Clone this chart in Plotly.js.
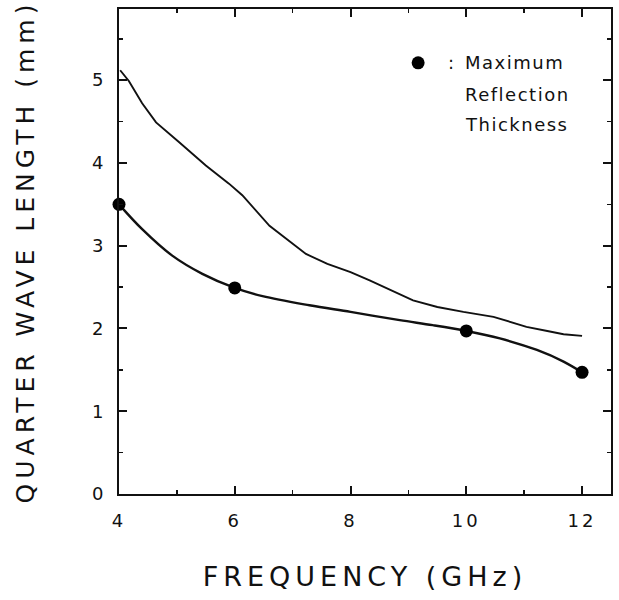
<!DOCTYPE html>
<html><head><meta charset="utf-8">
<script src="https://cdn.plot.ly/plotly-3.0.1.min.js"></script>
<style>
body{margin:0;background:#fff}
.xtitle,.ytitle{letter-spacing:5px}
.xtick text,.ytick text{letter-spacing:3px}
.annotation-text{letter-spacing:1.5px}
</style></head><body><div id="chart" style="width:619px;height:600px"></div>
<script>
// Upper (thin) curve: quarter wave length vs frequency
const upperFreq = [4.02, 4.17, 4.40, 4.64, 5.04, 5.50, 5.90, 6.13, 6.60, 6.94, 7.23, 7.60, 8.00, 8.33, 8.70, 9.08, 9.50, 9.95, 10.47, 11.04, 11.40, 11.68, 12.00];
const upperQWL  = [5.12, 4.99, 4.72, 4.49, 4.25, 3.97, 3.75, 3.61, 3.24, 3.06, 2.90, 2.78, 2.68, 2.58, 2.46, 2.34, 2.26, 2.20, 2.14, 2.02, 1.97, 1.93, 1.91];
// Lower (thick) curve: maximum reflection thickness
const lowerFreq = [4.00, 4.40, 4.92, 5.44, 6.00, 6.48, 7.29, 8.00, 8.85, 9.42, 10.00, 10.58, 11.22, 11.68, 12.00];
const lowerQWL  = [3.50, 3.20, 2.88, 2.66, 2.49, 2.39, 2.28, 2.20, 2.10, 2.04, 1.97, 1.88, 1.74, 1.60, 1.47];
// Maximum reflection thickness points
const dotFreq = [4, 6, 10, 12];
const dotQWL  = [3.50, 2.49, 1.97, 1.47];
// Tick labels
const xTicks = [4, 6, 8, 10, 12];
const yTicks = [0, 1, 2, 3, 4, 5];
const legendLines = ["Maximum", "Reflection", "Thickness"];

const FONT = "DejaVu Sans, sans-serif";

const traces = [
  {x: upperFreq, y: upperQWL, mode: "lines", line: {color: "#111", width: 1.9}, cliponaxis: false},
  {x: lowerFreq, y: lowerQWL, mode: "lines", line: {color: "#111", width: 2.4, shape: "spline", smoothing: 1}, cliponaxis: false},
  {x: dotFreq, y: dotQWL, mode: "markers", marker: {color: "#000", size: 13}, cliponaxis: false}
];

const axisCommon = {
  showline: true, linecolor: "#111", linewidth: 2, mirror: "ticks",
  ticks: "inside", ticklen: 8, tickwidth: 2, tickcolor: "#111",
  showgrid: false, zeroline: false, fixedrange: true,
  tickfont: {family: FONT, size: 18, color: "#111"}
};

const layout = {
  width: 619, height: 600,
  margin: {l: 119, r: 8, t: 9, b: 106},
  paper_bgcolor: "#fff", plot_bgcolor: "#fff",
  showlegend: false,
  xaxis: Object.assign({}, axisCommon, {
    range: [4, 12.5], tickvals: xTicks, ticktext: xTicks.map(String),
    minor: {dtick: 1, tick0: 4, ticks: "inside", ticklen: 4, tickwidth: 1.5, tickcolor: "#111"},
    ticklabelstandoff: 9,
    title: {text: "FREQUENCY (GHz)", font: {family: FONT, size: 27, color: "#111"}, standoff: 38}
  }),
  yaxis: Object.assign({}, axisCommon, {
    range: [0, 5.86], tickvals: yTicks, ticktext: yTicks.map(String),
    minor: {dtick: 0.5, tick0: 0, ticks: "inside", ticklen: 4, tickwidth: 1.5, tickcolor: "#111"},
    ticklabelstandoff: 7,
    title: {text: "QUARTER WAVE LENGTH (mm)", font: {family: FONT, size: 25, color: "#111"}, standoff: 50}
  }),
  shapes: [
    {type: "circle", xref: "paper", yref: "paper", xsizemode: "pixel", ysizemode: "pixel",
     xanchor: 0.608, yanchor: 0.889, x0: -6.5, x1: 6.5, y0: -6.5, y1: 6.5,
     fillcolor: "#000", line: {color: "#000", width: 0}}
  ],
  annotations: [
    {xref: "paper", yref: "paper", x: 0.664, y: 0.889, xanchor: "left", yanchor: "middle",
     text: ":", showarrow: false, font: {family: FONT, size: 18, color: "#111"}}
  ].concat(legendLines.map((t, i) => ({
    xref: "paper", yref: "paper", x: 0.700, y: [0.889, 0.823, 0.761][i], xanchor: "left", yanchor: "middle",
    text: t, showarrow: false, font: {family: FONT, size: 18, color: "#111"}
  })))
};

Plotly.newPlot("chart", traces, layout, {staticPlot: true, displayModeBar: false});
</script></body></html>
